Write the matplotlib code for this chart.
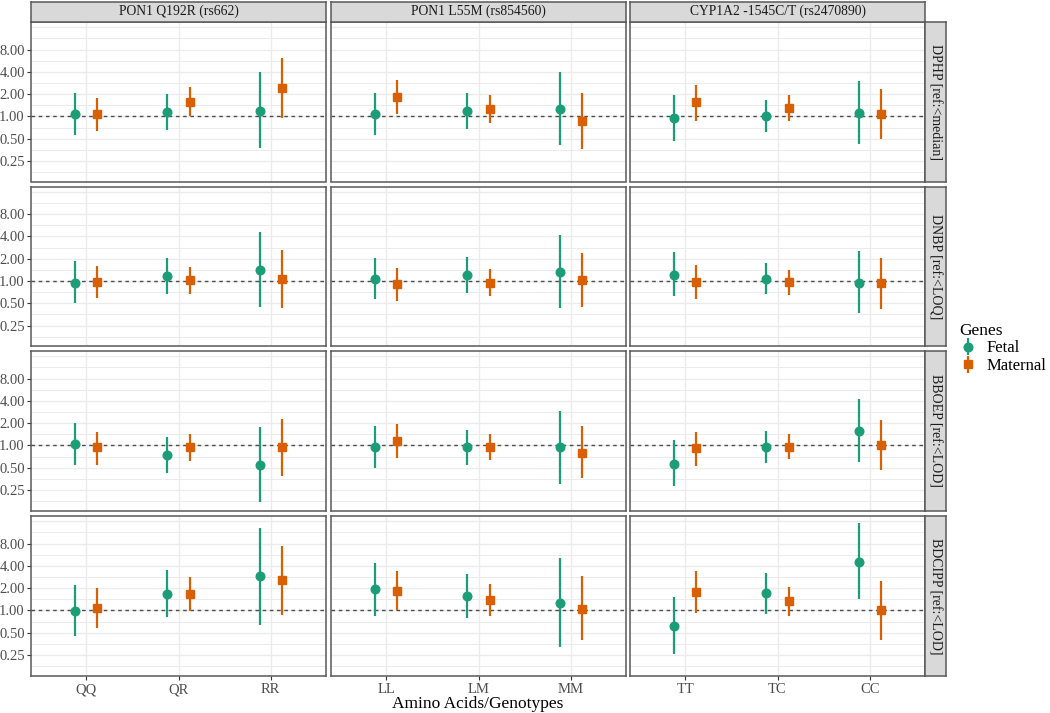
import matplotlib
matplotlib.use("Agg")
import matplotlib.pyplot as plt
import numpy as np

plt.rcParams['font.family'] = ['Liberation Serif', 'DejaVu Serif']

# ---------------- data ----------------
genes = ["PON1 Q192R (rs662)", "PON1 L55M (rs854560)", "CYP1A2 -1545C/T (rs2470890)"]
genotypes = [["QQ", "QR", "RR"], ["LL", "LM", "MM"], ["TT", "TC", "CC"]]
chemicals = ["DPHP [ref:<median]", "DNBP [ref:<LOQ]", "BBOEP [ref:<LOD]", "BDCIPP [ref:<LOD]"]

# [row][gene][genotype]
fetal_or = [
    [[1.07, 1.14, 1.20], [1.07, 1.17, 1.27], [0.95, 1.03, 1.13]],
    [[0.95, 1.17, 1.41], [1.07, 1.19, 1.34], [1.22, 1.06, 0.95]],
    [[1.05, 0.75, 0.55], [0.94, 0.94, 0.94], [0.57, 0.94, 1.58]],
    [[0.99, 1.69, 2.90], [1.92, 1.58, 1.26], [0.62, 1.71, 4.57]],
]
fetal_lo = [
    [[0.56, 0.66, 0.37], [0.57, 0.68, 0.41], [0.46, 0.62, 0.42]],
    [[0.50, 0.67, 0.44], [0.57, 0.69, 0.43], [0.62, 0.67, 0.37]],
    [[0.55, 0.43, 0.17], [0.50, 0.55, 0.30], [0.28, 0.58, 0.60]],
    [[0.45, 0.81, 0.64], [0.85, 0.80, 0.32], [0.26, 0.90, 1.41]],
]
fetal_hi = [
    [[2.08, 2.02, 4.00], [2.06, 2.06, 3.96], [1.92, 1.68, 3.05]],
    [[1.84, 2.04, 4.53], [2.04, 2.10, 4.12], [2.46, 1.75, 2.51]],
    [[2.02, 1.32, 1.77], [1.84, 1.64, 2.96], [1.19, 1.58, 4.26]],
    [[2.24, 3.57, 13.2], [4.44, 3.09, 5.04], [1.54, 3.22, 15.2]],
]
maternal_or = [
    [[1.07, 1.59, 2.39], [1.84, 1.27, 0.88], [1.55, 1.31, 1.09]],
    [[0.98, 1.03, 1.07], [0.91, 0.95, 1.03], [0.97, 0.96, 0.93]],
    [[0.94, 0.94, 0.94], [1.14, 0.96, 0.80], [0.91, 0.96, 1.02]],
    [[1.07, 1.66, 2.59], [1.84, 1.39, 1.06], [1.80, 1.34, 1.00]],
]
maternal_lo = [
    [[0.64, 1.02, 0.96], [1.09, 0.82, 0.36], [0.88, 0.88, 0.50]],
    [[0.58, 0.66, 0.43], [0.54, 0.63, 0.44], [0.57, 0.64, 0.42]],
    [[0.55, 0.61, 0.39], [0.68, 0.63, 0.36], [0.53, 0.65, 0.47]],
    [[0.58, 0.97, 0.87], [1.00, 0.85, 0.40], [0.92, 0.83, 0.40]],
]
maternal_hi = [
    [[1.78, 2.51, 6.10], [3.15, 1.92, 2.06], [2.70, 1.92, 2.36]],
    [[1.61, 1.53, 2.59], [1.50, 1.47, 2.41], [1.66, 1.39, 2.04]],
    [[1.54, 1.44, 2.27], [1.92, 1.44, 1.84], [1.54, 1.41, 2.22]],
    [[1.98, 2.84, 7.50], [3.39, 2.31, 2.91], [3.39, 2.10, 2.51]],
]

y_breaks = [0.25, 0.5, 1, 2, 4, 8]
series = ["Fetal", "Maternal"]
colors = {"Fetal": "#1B9E77", "Maternal": "#D95F02"}
markers = {"Fetal": "o", "Maternal": "s"}

# ---------------- layout ----------------
W, H = 1050, 713
fig = plt.figure(figsize=(W / 100, H / 100), dpi=100)

def rect(x0, y0, w, h):
    return [x0 / W, 1 - (y0 + h) / H, w / W, h / H]

col_x = [31, 331, 630]
pw = 295
row_y = [22, 186.5, 351, 516]
ph = 159.5
dodge = 0.12
border_col = "#595959"
ylo, yhi = 2 ** -2.92, 2 ** 4.24

handles = {}
for r in range(4):
    for c in range(3):
        ax = fig.add_axes(rect(col_x[c], row_y[r], pw, ph))
        ax.set_yscale('log', base=2)
        ax.set_xlim(0.4, 3.6)
        ax.set_ylim(ylo, yhi)
        # grid
        for k in np.arange(-3, 4.51, 0.5):
            v = 2.0 ** k
            lw = 1.0 if float(k).is_integer() else 0.7
            ax.axhline(v, color="#EBEBEB", lw=lw, zorder=0)
        for xv in [1, 2, 3]:
            ax.axvline(xv, color="#EBEBEB", lw=1.0, zorder=0)
        ax.axhline(1.0, color="#4D4D4D", lw=1.0, ls=(0, (2.6, 2.6)), zorder=1)
        xs = np.arange(1, 4)
        for s, off, orv, lov, hiv in [
            ("Fetal", -dodge, fetal_or, fetal_lo, fetal_hi),
            ("Maternal", dodge, maternal_or, maternal_lo, maternal_hi),
        ]:
            o = np.array(orv[r][c]); lo = np.array(lov[r][c]); hi = np.array(hiv[r][c])
            h = ax.errorbar(xs + off, o, yerr=[o - lo, hi - o], fmt=markers[s],
                            color=colors[s], ms=6.2 if s == "Fetal" else 5.8,
                            elinewidth=1.6, capsize=0, zorder=3, label=s)
            handles[s] = h
        ax.set_yticks(y_breaks)
        ax.yaxis.set_minor_locator(matplotlib.ticker.NullLocator())
        ax.set_xticks([1, 2, 3])
        if c == 0:
            ax.set_yticklabels([f"{v:.2f}" for v in y_breaks])
            ax.tick_params(axis='y', length=3, width=0.8, color="#333333",
                           labelsize=10.5, labelcolor="#4D4D4D", pad=1.5)
        else:
            ax.tick_params(axis='y', length=0, labelleft=False)
        if r == 3:
            ax.set_xticklabels(genotypes[c])
            ax.tick_params(axis='x', length=3, width=0.8, color="#333333",
                           labelsize=10.5, labelcolor="#4D4D4D", pad=2.5)
        else:
            ax.tick_params(axis='x', length=0, labelbottom=False)
        for sp in ax.spines.values():
            sp.set_color(border_col)
            sp.set_linewidth(1.1)
        # top strips
        if r == 0:
            sax = fig.add_axes(rect(col_x[c], 1.5, pw, 20.5))
            sax.set_facecolor("#D9D9D9")
            sax.set_xticks([]); sax.set_yticks([])
            for sp in sax.spines.values():
                sp.set_color(border_col); sp.set_linewidth(1.1)
            sax.text(0.5, 0.5, genes[c], ha='center', va='center',
                     fontsize=9.8, color="#1A1A1A", transform=sax.transAxes)
        # right strips
        if c == 2:
            sax = fig.add_axes(rect(925, row_y[r], 21, ph))
            sax.set_facecolor("#D9D9D9")
            sax.set_xticks([]); sax.set_yticks([])
            for sp in sax.spines.values():
                sp.set_color(border_col); sp.set_linewidth(1.1)
            sax.text(0.5, 0.5, chemicals[r], ha='center', va='center', rotation=270,
                     fontsize=10, color="#1A1A1A", transform=sax.transAxes)

fig.text(478 / W, 1 - 703.5 / H, "Amino Acids/Genotypes", ha='center', va='center',
         fontsize=12.5, color="black")

leg = fig.legend([handles[s] for s in series], series, loc='upper left',
                 bbox_to_anchor=(953 / W, 1 - 316 / H), frameon=False,
                 title="Genes", title_fontsize=12.5, fontsize=12,
                 alignment='left', handlelength=1.0, handletextpad=0.6,
                 labelspacing=0.1, borderaxespad=0)

fig.savefig("out.png", dpi=100, facecolor="white")
